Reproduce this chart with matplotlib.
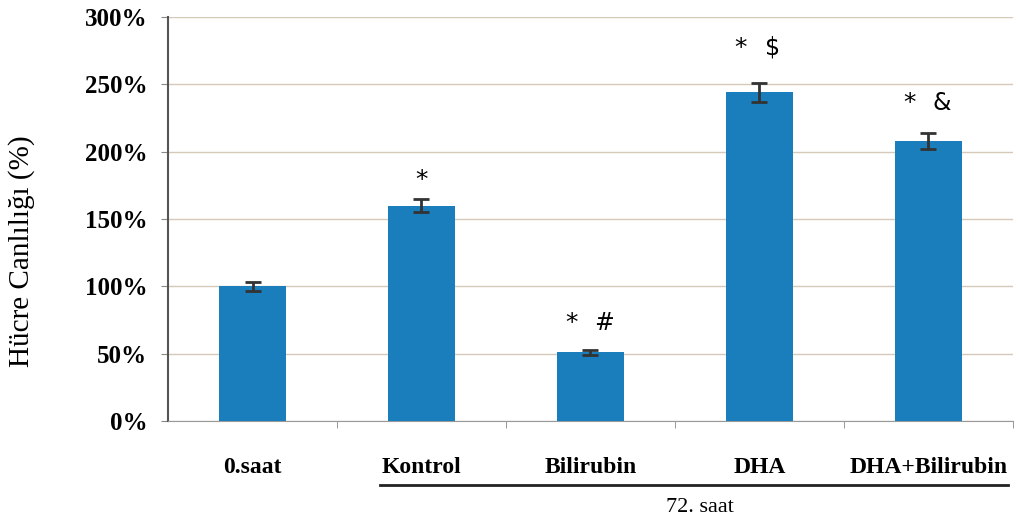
import matplotlib.pyplot as plt
import numpy as np
from matplotlib.ticker import FuncFormatter

groups = ['0.saat', 'Kontrol', 'Bilirubin', 'DHA', 'DHA+Bilirubin']
viability = [100, 160, 51, 244, 208]
sem = [3.5, 5, 2, 7, 6]
marks = ['', '*', '* #', '* $', '* &']
mark_y = [0, 179, 73, 277, 236]

bar_color = '#1a7dbc'
serif = 'Liberation Serif'

fig = plt.figure(figsize=(10.19, 5.23), dpi=100)
ax = fig.add_axes([0.1649, 0.195, 0.829, 0.7725])

x = np.arange(len(groups))
ax.bar(x, viability, width=0.4, color=bar_color, zorder=3)
ax.errorbar(x, viability, yerr=sem, fmt='none', ecolor='#333333',
            elinewidth=2, capsize=6, capthick=2, zorder=4)

# significance marks above bars
for i, m in enumerate(marks):
    if not m:
        continue
    parts = m.split()
    if len(parts) == 1:
        ax.text(i, mark_y[i], parts[0], ha='center', va='center', fontsize=18,
                family='DejaVu Sans')
    else:
        ax.text(i - 0.11, mark_y[i], parts[0], ha='center', va='center',
                fontsize=18, family='DejaVu Sans')
        ax.text(i + 0.08, mark_y[i], parts[1], ha='center', va='center',
                fontsize=17, family='DejaVu Sans')

ax.set_xlim(-0.5, 4.5)
ax.set_ylim(0, 300)
ax.set_yticks(np.arange(0, 301, 50))
ax.yaxis.set_major_formatter(FuncFormatter(lambda v, p: f'{v:.0f}%'))
ax.grid(axis='y', color='#d6c9b8', linewidth=1, zorder=0)

ax.set_xticks(x)
ax.set_xticklabels(groups, fontsize=17, fontweight='bold', family=serif)
ax.set_xticks(np.arange(0.5, 5, 1), minor=True)
ax.tick_params(axis='x', which='major', length=0, pad=26)
ax.tick_params(axis='x', which='minor', length=5, color='#888888', direction='out')
ax.tick_params(axis='y', length=5, color='#888888', direction='out', pad=10)
for lab in ax.get_yticklabels():
    lab.set_fontsize(18)
    lab.set_fontweight('bold')
    lab.set_family(serif)

for side in ['top', 'right']:
    ax.spines[side].set_visible(False)
ax.spines['left'].set_color('#555555')
ax.spines['left'].set_linewidth(1.5)
ax.spines['bottom'].set_color('#999999')

ax.set_ylabel('Hücre Canlılığı (%)', fontsize=21, family=serif)
ax.yaxis.set_label_coords(-0.158, 0.42)

# bracket under the 72 h groups
fig.add_artist(plt.Line2D([380 / 1019, 1008 / 1019], [1 - 485 / 523, 1 - 485 / 523],
                          color='#222222', linewidth=2))
fig.text(700 / 1019, 1 - 508 / 523, '72. saat', ha='center', va='center',
         fontsize=16, family=serif)

fig.savefig('out.png', dpi=100)
